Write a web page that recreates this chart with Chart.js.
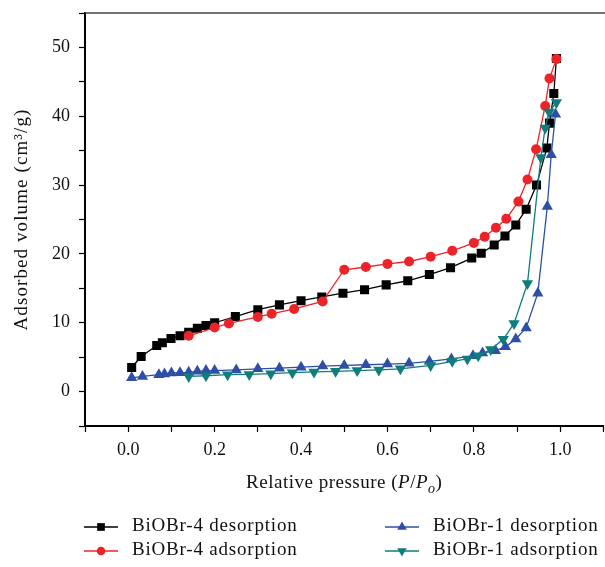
<!DOCTYPE html>
<html>
<head>
<meta charset="utf-8">
<script src="https://cdn.jsdelivr.net/npm/chart.js@4.4.1/dist/chart.umd.min.js"></script>
<style>
    html, body { margin: 0; padding: 0; background: #fff; overflow: hidden; }
    canvas { display: block; }
</style>
</head>
<body>
<canvas id="isothermChart" width="610" height="567"></canvas>
<script>
// BiOBr-4 desorption
const bi4DesX = [0.008, 0.03, 0.066, 0.079, 0.099, 0.12, 0.14, 0.16, 0.18, 0.2, 0.248, 0.3, 0.35, 0.4, 0.448, 0.497, 0.547, 0.597, 0.647, 0.697, 0.746, 0.795, 0.817, 0.847, 0.872, 0.897, 0.921, 0.945, 0.969, 0.975, 0.985, 0.991];
const bi4DesY = [3.5, 5.1, 6.7, 7.1, 7.7, 8.1, 8.6, 9.2, 9.6, 10.0, 10.9, 11.9, 12.6, 13.2, 13.75, 14.3, 14.8, 15.5, 16.1, 17.0, 18.0, 19.4, 20.1, 21.3, 22.6, 24.2, 26.5, 30.0, 35.4, 39.0, 43.3, 48.4];

// BiOBr-4 adsorption
const bi4AdsX = [0.14, 0.2, 0.233, 0.3, 0.332, 0.384, 0.45, 0.5, 0.55, 0.6, 0.65, 0.7, 0.75, 0.8, 0.825, 0.851, 0.875, 0.903, 0.924, 0.944, 0.965, 0.975, 0.991];
const bi4AdsY = [8.1, 9.3, 9.9, 10.85, 11.3, 12.0, 13.1, 17.7, 18.1, 18.55, 18.9, 19.6, 20.45, 21.6, 22.5, 23.8, 25.1, 27.6, 30.8, 35.2, 41.5, 45.5, 48.3];

// BiOBr-1 desorption
const bi1DesX = [0.008, 0.033, 0.071, 0.084, 0.1, 0.12, 0.14, 0.16, 0.18, 0.2, 0.25, 0.3, 0.35, 0.4, 0.45, 0.5, 0.55, 0.6, 0.65, 0.697, 0.748, 0.798, 0.82, 0.85, 0.873, 0.897, 0.921, 0.948, 0.97, 0.979, 0.989];
const bi1DesY = [2.0, 2.2, 2.45, 2.55, 2.7, 2.75, 2.8, 2.95, 3.05, 3.05, 3.15, 3.3, 3.4, 3.55, 3.7, 3.8, 3.9, 4.0, 4.1, 4.4, 4.75, 5.2, 5.6, 5.95, 6.5, 7.65, 9.25, 14.3, 26.9, 34.4, 40.3];

// BiOBr-1 adsorption
const bi1AdsX = [0.14, 0.18, 0.23, 0.28, 0.33, 0.38, 0.43, 0.48, 0.53, 0.58, 0.63, 0.7, 0.75, 0.785, 0.81, 0.839, 0.868, 0.893, 0.924, 0.955, 0.965, 0.974, 0.991];
const bi1AdsY = [2.2, 2.3, 2.45, 2.5, 2.6, 2.75, 2.85, 2.95, 3.05, 3.15, 3.3, 3.8, 4.4, 4.75, 5.2, 6.1, 7.6, 9.9, 15.7, 34.0, 38.3, 40.6, 42.0];

const seriesNames = ["BiOBr-4 desorption", "BiOBr-4 adsorption", "BiOBr-1 desorption", "BiOBr-1 adsorption"];
const yTitle = "Adsorbed volume (cm³/g)";

const black = "#000000";
const red = "#ec2328";
const blue = "#2f4fa6";
const teal = "#0e7d7b";
const serif = "'Liberation Serif', 'Times New Roman', serif";

function toPoints(xs, ys) {
    return xs.map((x, i) => ({ x: x, y: ys[i] }));
}

function series(label, xs, ys, color, style, radius, rotation, order) {
    return {
        label: label,
        data: toPoints(xs, ys),
        showLine: true,
        borderColor: color,
        backgroundColor: color,
        borderWidth: 1.3,
        pointStyle: style,
        pointRadius: radius,
        pointRotation: rotation,
        pointBorderWidth: 0,
        pointBackgroundColor: color,
        order: order
    };
}

// frame top line, axis titles (italic P/Po) and the two-column legend
const extras = {
    id: "extras",
    afterDraw(chart) {
        const ctx = chart.ctx;
        const area = chart.chartArea;
        ctx.save();

        ctx.strokeStyle = "#444";
        ctx.lineWidth = 1.5;
        ctx.beginPath();
        ctx.moveTo(area.left, area.top);
        ctx.lineTo(area.right + 5, area.top);
        ctx.stroke();

        ctx.fillStyle = "#111";
        ctx.textAlign = "left";
        ctx.letterSpacing = "0.5px";

        // x title: Relative pressure (P/Po)
        const parts = [
            ["Relative pressure (", "", 19, 0],
            ["P", "italic ", 19, 0],
            ["/", "", 19, 0],
            ["P", "italic ", 19, 0],
            ["o", "italic ", 14, 5],
            [")", "", 19, 0]
        ];
        let total = 0;
        parts.forEach(p => {
            ctx.font = p[1] + p[2] + "px " + serif;
            total += ctx.measureText(p[0]).width;
        });
        let tx = (area.left + area.right) / 2 - total / 2;
        ctx.textBaseline = "alphabetic";
        parts.forEach(p => {
            ctx.font = p[1] + p[2] + "px " + serif;
            ctx.fillText(p[0], tx, 488 + p[3]);
            tx += ctx.measureText(p[0]).width;
        });

        // y title, rotated
        ctx.save();
        ctx.translate(22, (area.top + area.bottom) / 2);
        ctx.rotate(-Math.PI / 2);
        ctx.letterSpacing = "1.1px";
        ctx.font = "19px " + serif;
        ctx.textAlign = "center";
        ctx.textBaseline = "middle";
        ctx.fillText(yTitle, 0, 0);
        ctx.restore();

        // legend
        const spots = [[84, 527], [84, 551], [385, 527], [385, 551]];
        ctx.letterSpacing = "0.8px";
        chart.data.datasets.forEach((ds, i) => {
            const [lx, ly] = spots[i];
            ctx.strokeStyle = ds.borderColor;
            ctx.fillStyle = ds.backgroundColor;
            ctx.lineWidth = 1.5;
            ctx.beginPath();
            ctx.moveTo(lx, ly);
            ctx.lineTo(lx + 34, ly);
            ctx.stroke();
            Chart.helpers.drawPoint(ctx, {
                pointStyle: ds.pointStyle,
                radius: ds.pointRadius * 0.85,
                rotation: ds.pointRotation,
                borderWidth: 0
            }, lx + 17, ly);
            ctx.fillStyle = "#111";
            ctx.font = "19px " + serif;
            ctx.textBaseline = "middle";
            ctx.textAlign = "left";
            ctx.fillText(ds.label, lx + 48, ly - 1);
        });

        ctx.restore();
    }
};

new Chart(document.getElementById("isothermChart"), {
    type: "scatter",
    data: {
        datasets: [
            series(seriesNames[0], bi4DesX, bi4DesY, black, "rect", 6.4, 0, 4),
            series(seriesNames[1], bi4AdsX, bi4AdsY, red, "circle", 5, 0, 3),
            series(seriesNames[2], bi1DesX, bi1DesY, blue, "triangle", 6.5, 0, 2),
            series(seriesNames[3], bi1AdsX, bi1AdsY, teal, "triangle", 6.5, 180, 1)
        ]
    },
    options: {
        responsive: false,
        animation: false,
        layout: { padding: { top: 13, right: 3, bottom: 71, left: 0 } },
        plugins: {
            legend: { display: false },
            tooltip: { enabled: false }
        },
        scales: {
            x: {
                type: "linear",
                min: -0.1,
                max: 1.1,
                afterFit: scale => {
                    scale.height = 70;
                    scale.paddingLeft = 0;
                    scale.paddingRight = 0;
                },
                border: { display: true, color: "#000", width: 2 },
                grid: { drawOnChartArea: false, drawTicks: true, tickLength: 6, tickColor: "#000", tickWidth: 1.2 },
                ticks: {
                    stepSize: 0.1,
                    padding: 7,
                    color: "#111",
                    font: { family: serif, size: 18 },
                    maxRotation: 0,
                    autoSkip: false,
                    callback: v => {
                        const k = Math.round(v * 10);
                        return (k >= 0 && k <= 10 && k % 2 === 0) ? (k / 10).toFixed(1) : "";
                    }
                }
            },
            y: {
                type: "linear",
                min: -5,
                max: 55,
                afterFit: scale => {
                    scale.width = 85;
                    scale.paddingTop = 0;
                    scale.paddingBottom = 0;
                },
                border: { display: true, color: "#000", width: 2 },
                grid: { drawOnChartArea: false, drawTicks: true, tickLength: 6, tickColor: "#000", tickWidth: 1.2 },
                ticks: {
                    stepSize: 5,
                    padding: 9,
                    color: "#111",
                    font: { family: serif, size: 18 },
                    autoSkip: false,
                    callback: v => (v >= 0 && v <= 50 && v % 10 === 0) ? String(v) : ""
                }
            }
        }
    },
    plugins: [extras]
});
</script>
</body>
</html>
